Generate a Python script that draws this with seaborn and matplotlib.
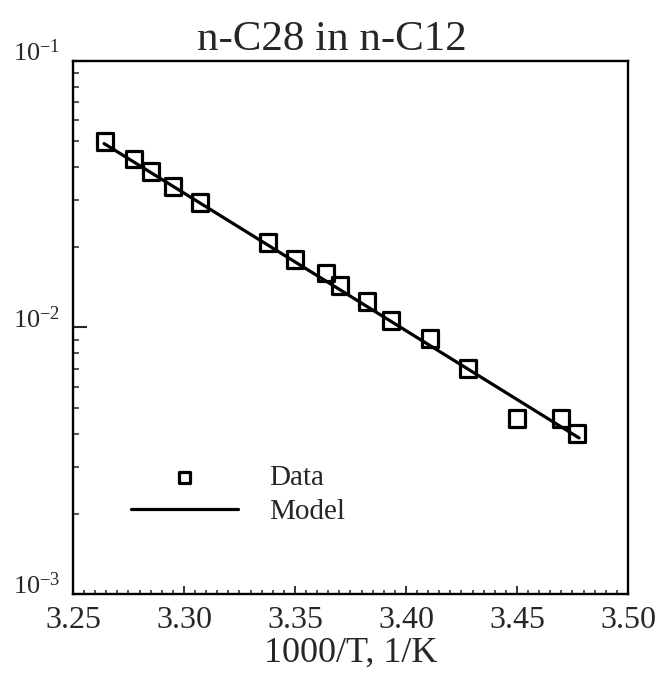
import numpy as np
import pandas as pd
import matplotlib
matplotlib.use('Agg')
import matplotlib.pyplot as plt
import seaborn as sns
from matplotlib.ticker import LogLocator, MultipleLocator, NullFormatter

# --- data ---
inv_T = [3.2644, 3.2775, 3.2851, 3.2950, 3.3072, 3.3378, 3.3500, 3.3640,
         3.3703, 3.3824, 3.3932, 3.4108, 3.4279, 3.4500, 3.4698, 3.4770]
data_y = [0.0500, 0.0429, 0.0385, 0.0339, 0.0295, 0.0209, 0.0180, 0.0160,
          0.0144, 0.0125, 0.0106, 0.00910, 0.00702, 0.00455, 0.00455, 0.00400]

model_x = [3.264, 3.478]
model_y = [0.0490, 0.00385]

x_ticks = [3.25, 3.30, 3.35, 3.40, 3.45, 3.50]
x_ticklabels = ['3.25', '3.30', '3.35', '3.40', '3.45', '3.50']
y_ticks = [1e-3, 1e-2, 1e-1]
y_ticklabels = [r'$\mathregular{10^{-3}}$', r'$\mathregular{10^{-2}}$', r'$\mathregular{10^{-1}}$']

df_data = pd.DataFrame({'x': inv_T, 'y': data_y})
df_model = pd.DataFrame({'x': model_x, 'y': model_y})

sns.set_style('ticks')
plt.rcParams['font.family'] = ['Liberation Serif', 'DejaVu Serif']
plt.rcParams['mathtext.fontset'] = 'custom'
plt.rcParams['mathtext.rm'] = 'Liberation Serif'

fig = plt.figure(figsize=(6.61, 6.79), dpi=100)
ax = fig.add_axes([0.1104, 0.1252, 0.8396, 0.785])

sns.lineplot(data=df_model, x='x', y='y', ax=ax, color='black', linewidth=2.3, label='Model')
sns.scatterplot(data=df_data, x='x', y='y', ax=ax, marker='s', s=145,
                facecolor='none', edgecolor='black', linewidth=2.3, label='Data', zorder=3)

ax.set_yscale('log')
ax.set_xlim(3.25, 3.50)
ax.set_ylim(1e-3, 1e-1)

ax.set_xticks(x_ticks)
ax.set_xticklabels(x_ticklabels)
ax.xaxis.set_minor_locator(MultipleLocator(0.005))
ax.set_yticks(y_ticks)
ax.set_yticklabels(y_ticklabels)
ax.yaxis.set_minor_locator(LogLocator(base=10, subs=np.arange(2, 10)))
ax.yaxis.set_minor_formatter(NullFormatter())

ax.tick_params(axis='x', which='major', direction='in', length=6, width=1.3, labelsize=23, pad=9)
ax.tick_params(axis='x', which='minor', direction='in', length=3, width=1.1)
ax.tick_params(axis='y', which='major', direction='in', length=10, width=1.5, labelsize=19, pad=9)
ax.tick_params(axis='y', which='minor', direction='in', length=4, width=1.1)
for lab in ax.get_yticklabels():
    lab.set_verticalalignment('baseline')

for sp in ax.spines.values():
    sp.set_linewidth(1.7)
    sp.set_color('black')

ax.set_xlabel('1000/T, 1/K', fontsize=26, labelpad=1)
ax.set_ylabel('')
ax.set_title('n-C28 in n-C12', fontsize=31, x=0.467, pad=8)

handles, labels = ax.get_legend_handles_labels()
order = [labels.index('Data'), labels.index('Model')]
leg = ax.legend([handles[i] for i in order], [labels[i] for i in order],
                loc='upper left', bbox_to_anchor=(0.0774, 0.27), frameon=False,
                fontsize=21, handlelength=3.7, handletextpad=1.05,
                labelspacing=0.25, borderpad=0, markerscale=0.65)

fig.savefig('out.png', dpi=100)
